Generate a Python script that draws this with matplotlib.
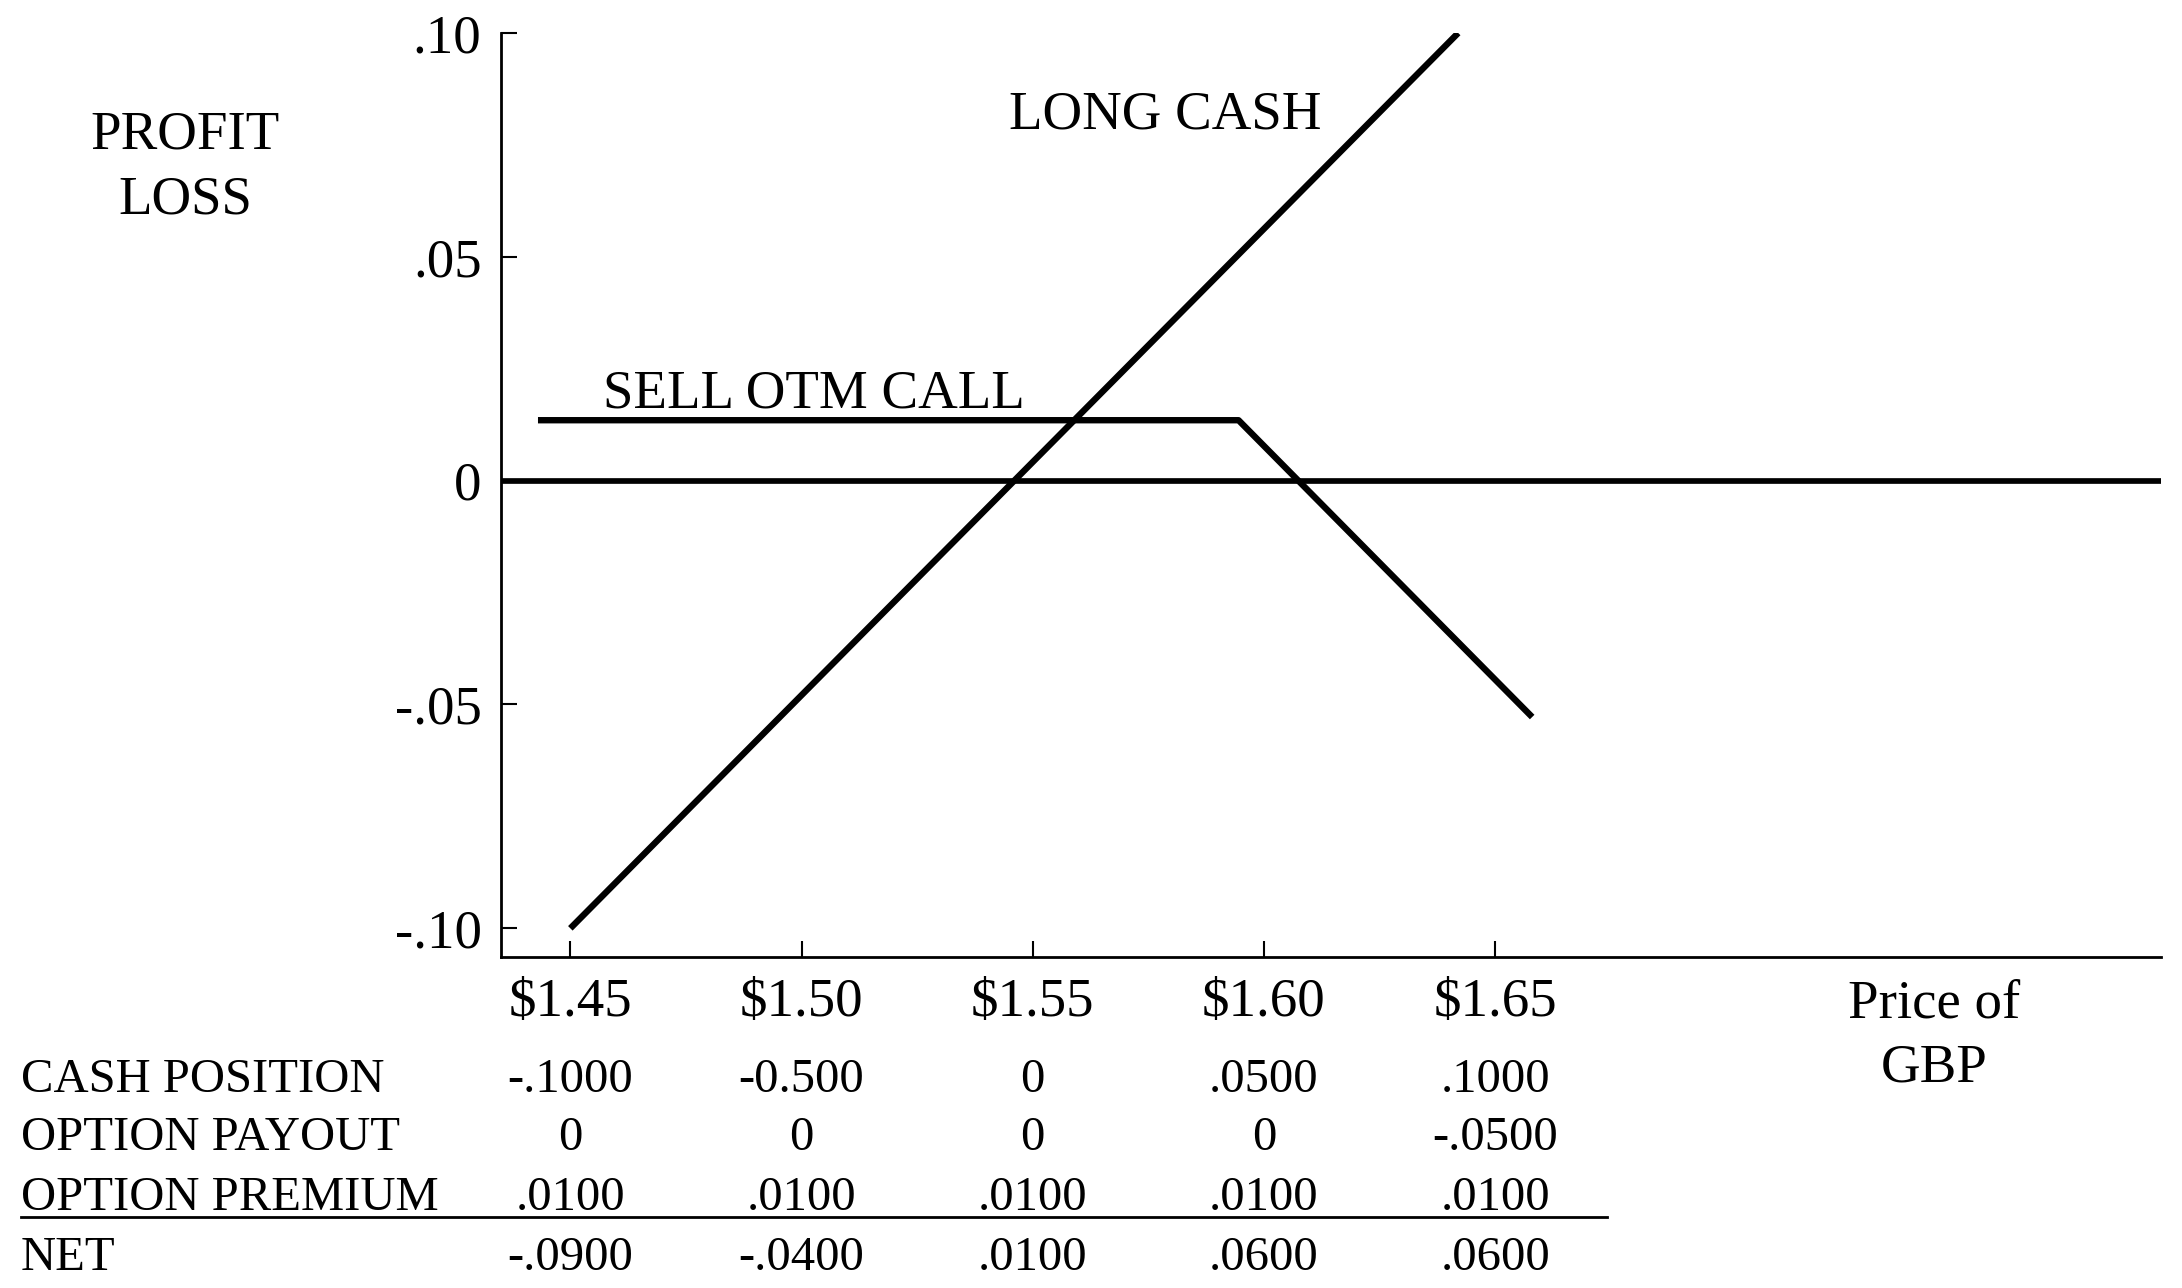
import matplotlib.pyplot as plt
import matplotlib.transforms as mtransforms
from matplotlib.lines import Line2D

prices = [1.45, 1.50, 1.55, 1.60, 1.65]
price_labels = ['$1.45', '$1.50', '$1.55', '$1.60', '$1.65']
profit_ticks = [0.10, 0.05, 0.0, -0.05, -0.10]
profit_labels = ['.10', '.05', '0', '-.05', '-.10']

long_cash_x = [1.45, 1.642]
long_cash_y = [-0.10, 0.10]
sell_call_x = [1.443, 1.5945, 1.658]
sell_call_y = [0.0135, 0.0135, -0.0528]

row_names = ['CASH POSITION', 'OPTION PAYOUT', 'OPTION PREMIUM', 'NET']
cash_position = ['-.1000', '-0.500', '0', '.0500', '.1000']
option_payout = ['0', '0', '0', '0', '-.0500']
option_premium = ['.0100', '.0100', '.0100', '.0100', '.0100']
net = ['-.0900', '-.0400', '.0100', '.0600', '.0600']


def main():
    plt.rcParams['font.family'] = ['Liberation Serif', 'DejaVu Serif']
    fig = plt.figure(figsize=(21.82, 12.88), dpi=100)
    ax = fig.add_axes([0.2296, 0.2570, 0.7608, 0.7174])

    ax.plot(long_cash_x, long_cash_y, color='black', lw=4.6, solid_capstyle='butt')
    ax.plot(sell_call_x, sell_call_y, color='black', lw=4.6, solid_capstyle='butt')
    ax.axhline(0, color='black', lw=4.1)

    ax.text(1.5786, 0.0817, 'LONG CASH', fontsize=39.5, ha='center', va='center')
    ax.text(1.5027, 0.0193, 'SELL OTM CALL', fontsize=39.5, ha='center', va='center')

    ax.set_xlim(1.435, 1.794)
    ax.set_ylim(-0.1064, 0.1)
    ax.set_xticks(prices, price_labels)
    ax.set_yticks(profit_ticks, profit_labels)
    ax.tick_params(direction='in', length=11.5, width=1.5, labelsize=39.5, pad=14)
    ax.tick_params(axis='x', pad=15)
    for side in ['top', 'right']:
        ax.spines[side].set_visible(False)
    for side in ['left', 'bottom']:
        ax.spines[side].set_linewidth(2.0)

    fig.text(0.0848, 0.870, 'PROFIT\nLOSS', fontsize=39.5, ha='center', va='center',
             multialignment='center', linespacing=1.37)
    fig.text(0.8863, 0.1955, 'Price of\nGBP', fontsize=39.5, ha='center', va='center',
             multialignment='center', linespacing=1.37)

    # table under the x axis, columns lined up with the price ticks
    trans = mtransforms.blended_transform_factory(ax.transData, fig.transFigure)
    rows = [cash_position, option_payout, option_premium, net]
    row_y = [0.1616, 0.1166, 0.0700, 0.0234]
    for name, vals, y in zip(row_names, rows, row_y):
        fig.text(0.0096, y, name, fontsize=35, ha='left', va='center')
        for p, v in zip(prices, vals):
            ax.text(p, y, v, transform=trans, fontsize=35, ha='center', va='center',
                    clip_on=False)
    fig.add_artist(Line2D([0.0096, 0.7365], [0.0551, 0.0551], color='black', lw=2.0))

    fig.savefig('out.png', dpi=100)
    plt.close(fig)


if __name__ == '__main__':
    main()
